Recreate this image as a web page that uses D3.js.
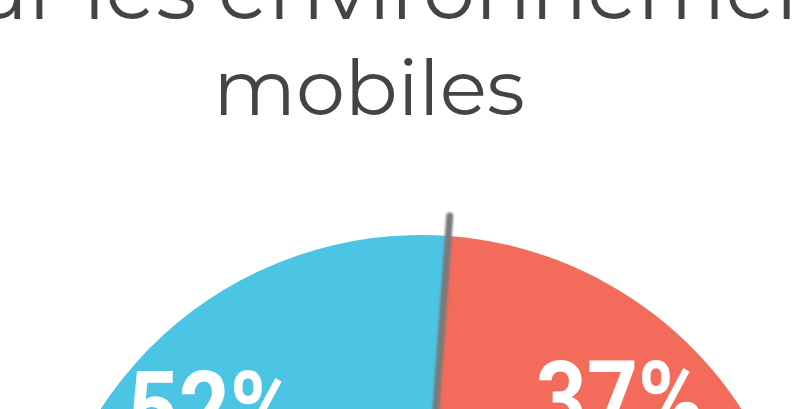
<!DOCTYPE html>
<html>
<head>
<meta charset="utf-8">
<script src="https://cdn.jsdelivr.net/npm/d3@7"></script>
<style>
  html, body { margin: 0; padding: 0; background: #fff; overflow: hidden; }
  svg { display: block; }
</style>
</head>
<body>
<svg id="chart" width="810" height="409"></svg>
<script>
// ---- data ----
const categories = ["Mobile A", "Mobile B", "Autres"];
const values = [52, 37, 11];
const labels = ["52%", "37%", ""];
const colors = ["#4CC4E3", "#F26B5B", "#d0d0d0"];
const titleLines = ["sur les environnements", "mobiles"];

// ---- layout ----
const W = 810, H = 409;
const cx = 421, cy = 617, R = 382;
const boundary = 4.1 * Math.PI / 180; // angle of the blue/red boundary

const svg = d3.select("#chart");

const defs = svg.append("defs");
defs.append("filter").attr("id", "blur")
  .attr("x", "-50%").attr("y", "-10%").attr("width", "200%").attr("height", "120%")
  .append("feGaussianBlur").attr("stdDeviation", 1.3);

const total = d3.sum(values);
const start = boundary - values[0] / total * 2 * Math.PI;
const pie = d3.pie().sort(null).value(d => d)
  .startAngle(start).endAngle(start + 2 * Math.PI);
const arcs = pie(values);
const arc = d3.arc().innerRadius(0).outerRadius(R);

const g = svg.append("g").attr("transform", `translate(${cx},${cy})`);
g.selectAll("path.slice").data(arcs).enter().append("path")
  .attr("class", "slice")
  .attr("d", arc)
  .attr("fill", (d, i) => colors[i]);

// separator needle along the boundary
const p0 = d3.pointRadial(boundary, 0);
const p1 = d3.pointRadial(boundary, R + 20);
g.append("line")
  .attr("x1", p0[0]).attr("y1", p0[1])
  .attr("x2", p1[0]).attr("y2", p1[1])
  .attr("stroke", "#7a7a7a").attr("stroke-width", 7)
  .attr("stroke-linecap", "round")
  .attr("filter", "url(#blur)");

// percentage labels
const labelAngles = [-45.0 * Math.PI / 180, 42.2 * Math.PI / 180];
const labelR = 296;
[0, 1].forEach(i => {
  const p = d3.pointRadial(labelAngles[i], labelR);
  g.append("text")
    .attr("transform", `translate(${p[0]},${p[1]}) scale(0.86,1)`)
    .attr("text-anchor", "middle")
    .attr("dy", "0.36em")
    .attr("font-family", "Roboto, 'Liberation Sans', sans-serif")
    .attr("font-weight", 700)
    .attr("font-size", 104)
    .attr("fill", "#fff")
    .text(labels[i]);
});

// title
const tFont = "Montserrat, 'Open Sans', sans-serif";
const t1 = svg.append("text")
  .attr("x", 0).attr("y", 18.5)
  .attr("font-family", tFont)
  .attr("font-weight", 400)
  .attr("font-size", 83)
  .attr("fill", "#444")
  .text(titleLines[0]);
// align so that "environnements" begins where the reference shows it
const idx = titleLines[0].indexOf("environnements");
const sx = t1.node().getStartPositionOfChar(idx).x;
t1.attr("x", 218 - sx);

svg.append("text")
  .attr("x", 369).attr("y", 115)
  .attr("text-anchor", "middle")
  .attr("font-family", tFont)
  .attr("font-weight", 400)
  .attr("font-size", 78)
  .attr("fill", "#444")
  .text(titleLines[1]);
</script>
</body>
</html>
